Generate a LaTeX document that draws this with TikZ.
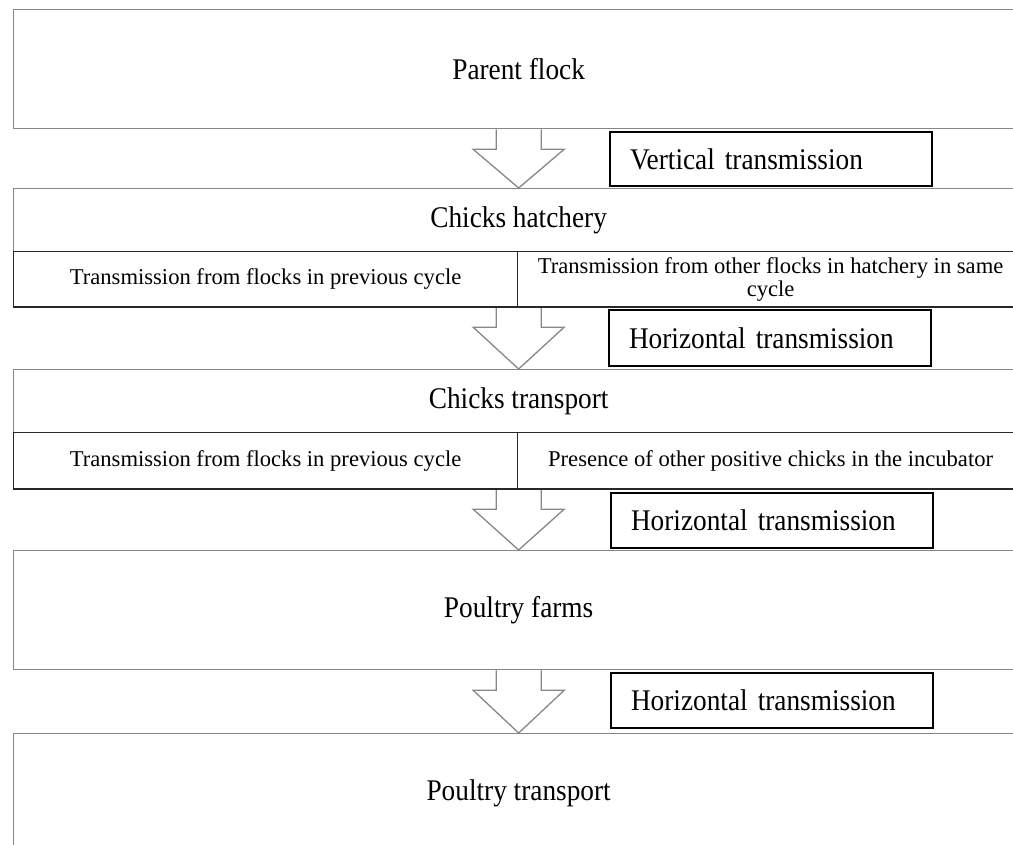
\documentclass[tikz,border=0pt]{standalone}
\usepackage{fontspec}
\setmainfont{Liberation Serif}
\newfontfamily\condserif[FakeStretch=0.91]{Liberation Serif}
\usetikzlibrary{calc}
\definecolor{boxgray}{RGB}{135,135,135}
\definecolor{cellline}{RGB}{40,40,40}
\tikzset{
  bigbox/.style={draw=boxgray, line width=1.3pt, rectangle, anchor=north west, inner sep=0pt,
    minimum width=1010pt, font=\condserif\fontsize{30}{34}\selectfont},
  cellbox/.style={draw=cellline, line width=1.2pt, rectangle, anchor=north west, inner sep=0pt,
    align=center, font=\fontsize{22.6}{23}\selectfont},
  tagbox/.style={draw=black, line width=2pt, rectangle, anchor=north west, inner xsep=20pt, inner ysep=0pt,
    text width=282pt, align=left, font=\condserif\fontsize{30}{34}\selectfont},
  arrowshape/.style={fill=white, draw=boxgray, line width=1.3pt, line join=miter},
  rowline/.style={draw=cellline, line width=1.2pt}
}
\newcommand\blkarrow[2]{%
  \path let \p1 = (#2.north), \p2 = (#1.south) in
    coordinate (T) at (\x1,\y2);
  \path[arrowshape] ($(T)+(-22.5,0)$) -- ($(T)+(-22.5,20)$) -- ($(T)+(-45.5,20)$) -- (#2.north)
    -- ($(T)+(45.5,20)$) -- ($(T)+(22.5,20)$) -- ($(T)+(22.5,0)$);
}
\begin{document}
\begin{tikzpicture}[x=1pt,y=-1pt]
\useasboundingbox (0,0) rectangle (1013,845);
\clip (0,0) rectangle (1013,845);

% main stages
\node[bigbox, minimum height=119pt] (pf) at (13,9) {Parent flock};
\node[bigbox, minimum height=63pt] (ch) at (13,188) {Chicks hatchery};
\node[bigbox, minimum height=63pt] (ct) at (13,369) {Chicks transport};
\node[bigbox, minimum height=119pt] (fa) at (13,550) {Poultry farms};
\node[bigbox, minimum height=119pt] (tr) at (13,733) {Poultry transport};

% sub-rows
\node[cellbox, minimum width=504pt, minimum height=55pt] (chL) at (13,251) {Transmission from flocks in previous cycle};
\node[cellbox, minimum width=506pt, minimum height=55pt] (chR) at (517,251) {Transmission from other flocks in hatchery in same\\cycle};
\node[cellbox, minimum width=504pt, minimum height=56pt] (ctL) at (13,432) {Transmission from flocks in previous cycle};
\node[cellbox, minimum width=506pt, minimum height=56pt] (ctR) at (517,432) {Presence of other positive chicks in the incubator};

% block arrows
\blkarrow{pf}{ch}
\blkarrow{chL}{ct}
\blkarrow{ctL}{fa}
\blkarrow{fa}{tr}
\draw[rowline] (chL.south west) -- (chR.south east);
\draw[rowline] (ctL.south west) -- (ctR.south east);

% transmission labels
\node[tagbox, minimum height=54pt] (l1) at (609,131) {Vertical transmission};
\node[tagbox, minimum height=56pt] (l2) at (608,309) {Horizontal transmission};
\node[tagbox, minimum height=55pt] (l3) at (610,492) {Horizontal transmission};
\node[tagbox, minimum height=55pt] (l4) at (610,672) {Horizontal transmission};
\end{tikzpicture}
\end{document}
